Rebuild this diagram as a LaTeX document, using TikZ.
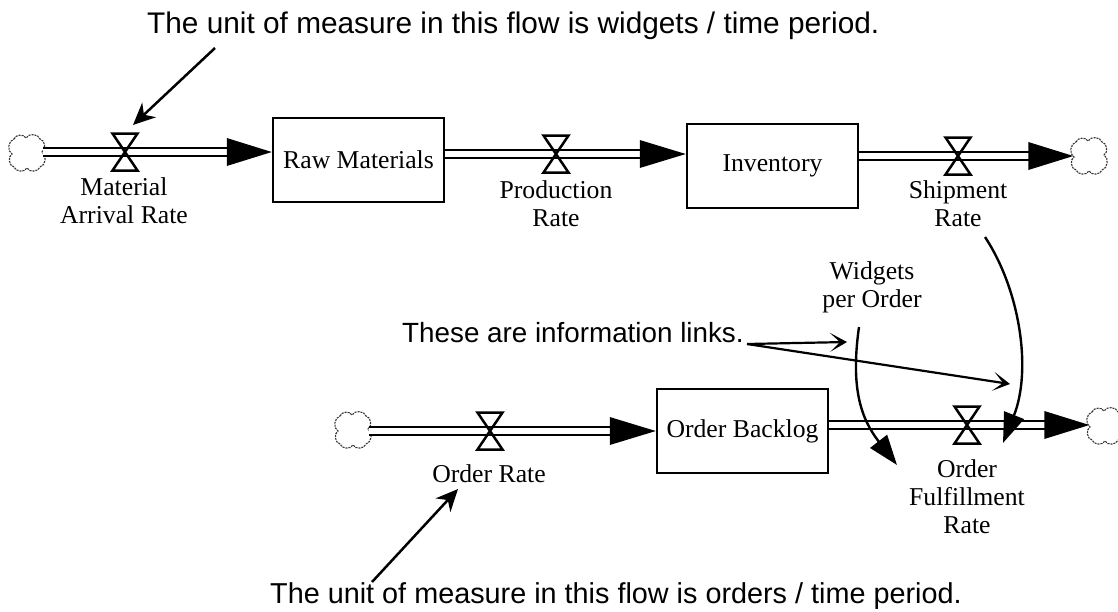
\documentclass[tikz,border=0pt]{standalone}
\usepackage{fontspec}
\setmainfont{Liberation Serif}
\newfontfamily\notefont{Liberation Sans}
\usetikzlibrary{arrows.meta,calc}
\begin{document}
\begin{tikzpicture}[x=1pt,y=-1pt,
  stock/.style={draw, line width=2.5pt, minimum width=171pt, minimum height=84pt, inner sep=0pt, font=\fontsize{25.7}{29}\selectfont},
  pipe/.style={draw, line width=2.4pt, double=white, double distance=5.6pt, shorten >=30pt},
  cloudspot/.style={circle, minimum size=31pt, inner sep=0pt},
  lbl/.style={align=center, inner sep=0pt, anchor=north, font=\fontsize{25.7}{28}\selectfont},
  sanstext/.style={anchor=base west, inner sep=0pt},
  note/.style={line width=2.5pt, -{Stealth[length=22pt,width=20pt,inset=7pt]}},
  info/.style={line width=2.2pt, -{Stealth[length=17pt,width=19pt,inset=10pt]}},
  link/.style={line width=2.4pt, -{Triangle[length=30pt,width=21pt]}},
  valve/.pic={\draw[line width=2.5pt, line join=miter] (-12.5,-18.5) -- (12.5,-18.5) -- (-12.5,18.5) -- (12.5,18.5) -- cycle;},
  cloudpic/.pic={\draw[draw=black!80, line width=1.1pt, dash pattern=on 2pt off 1pt, bend left=70]
     (-13,-14) to (-1,-15) to (13,-14) to (15,-1) to (13,14) to (0,15) to (-13,14) to (-15,1) to cycle;}
]
\path[use as bounding box, fill=white] (0,0) rectangle (1118,611);

% valves (centres)
\coordinate (v1) at (125,152);
\coordinate (v2) at (556,154);
\coordinate (v3) at (958,156);
\coordinate (v4) at (490,431);
\coordinate (v5) at (967,425);

% clouds
\node[cloudspot] (c1) at (27,153) {};
\node[cloudspot] (c2) at (1089,156) {};
\node[cloudspot] (c3) at (353,430) {};
\node[cloudspot] (c4) at (1105,426) {};
\pic at (c1) {cloudpic};
\pic at (c2) {cloudpic};
\pic at (c3) {cloudpic};
\pic at (c4) {cloudpic};

% stocks
\node[stock] (rm) at (358.5,160) {Raw Materials};
\node[stock] (inv) at (772.5,166) {Inventory};
\node[stock] (ob) at (742.5,431) {Order Backlog};

% flows
\draw[pipe] (c1.east |- v1) -- (rm.west |- v1);
\fill (rm.west |- v1) -- ++(-45,-14) -- ++(0,28) -- cycle;
\pic at (v1) {valve};

\draw[pipe] (rm.east |- v2) -- (inv.west |- v2);
\fill (inv.west |- v2) -- ++(-46,-14) -- ++(0,28) -- cycle;
\pic at (v2) {valve};

\draw[pipe] (inv.east |- v3) -- (c2.west |- v3);
\fill (c2.west |- v3) -- ++(-45,-14) -- ++(0,28) -- cycle;
\pic at (v3) {valve};

\draw[pipe] (c3.east |- v4) -- (ob.west |- v4);
\fill (ob.west |- v4) -- ++(-46,-14) -- ++(0,28) -- cycle;
\pic at (v4) {valve};

\draw[pipe] (ob.east |- v5) -- (c4.west |- v5);
\fill (c4.west |- v5) -- ++(-45,-14) -- ++(0,28) -- cycle;
\pic at (v5) {valve};

% flow labels
\node[lbl] (l-mar) at (124,177.5) {Material\\Arrival Rate};
\node[lbl] (l-pr) at (556,180.5) {Production\\Rate};
\node[lbl] (l-sr) at (958,180.5) {Shipment\\Rate};
\node[lbl] (l-wpo) at (872,261.5) {Widgets\\per Order};
\node[lbl] (l-or) at (489,464.5) {Order Rate};
\node[lbl] (l-ofr) at (967,459.5) {Order\\Fulfillment\\Rate};

% information links
\coordinate (w0) at (859,327);
\coordinate (w1) at (897,465);
\draw[link] (w0) .. controls (850,390) and (862,420) .. (w1);
\coordinate (s0) at (985,237);
\coordinate (s1) at (1003,443);
\draw[link] (s0) .. controls (1020,290) and (1032,370) .. (s1);

% annotations
\node[sanstext, font=\notefont\fontsize{29.8}{34}\selectfont] (t-top) at (147,33) {The unit of measure in this flow is widgets / time period.};
\node[sanstext, font=\notefont\fontsize{27.8}{32}\selectfont] (t-info) at (402,342) {These are information links.};
\node[sanstext, font=\notefont\fontsize{28.8}{33}\selectfont] (t-bot) at (270,603) {The unit of measure in this flow is orders / time period.};

\coordinate (a0) at (215,48);
\coordinate (a1) at (133,125);
\draw[note] (a0) -- (a1);
\coordinate (b0) at (372,582);
\coordinate (b1) at (458,489);
\draw[note] (b0) -- (b1);

\coordinate (i0) at (747,344);
\coordinate (i1) at (847,342);
\coordinate (i2) at (1010,384);
\draw[info] (i0) -- (i1);
\draw[info] (i0) -- (i2);
\end{tikzpicture}
\end{document}
